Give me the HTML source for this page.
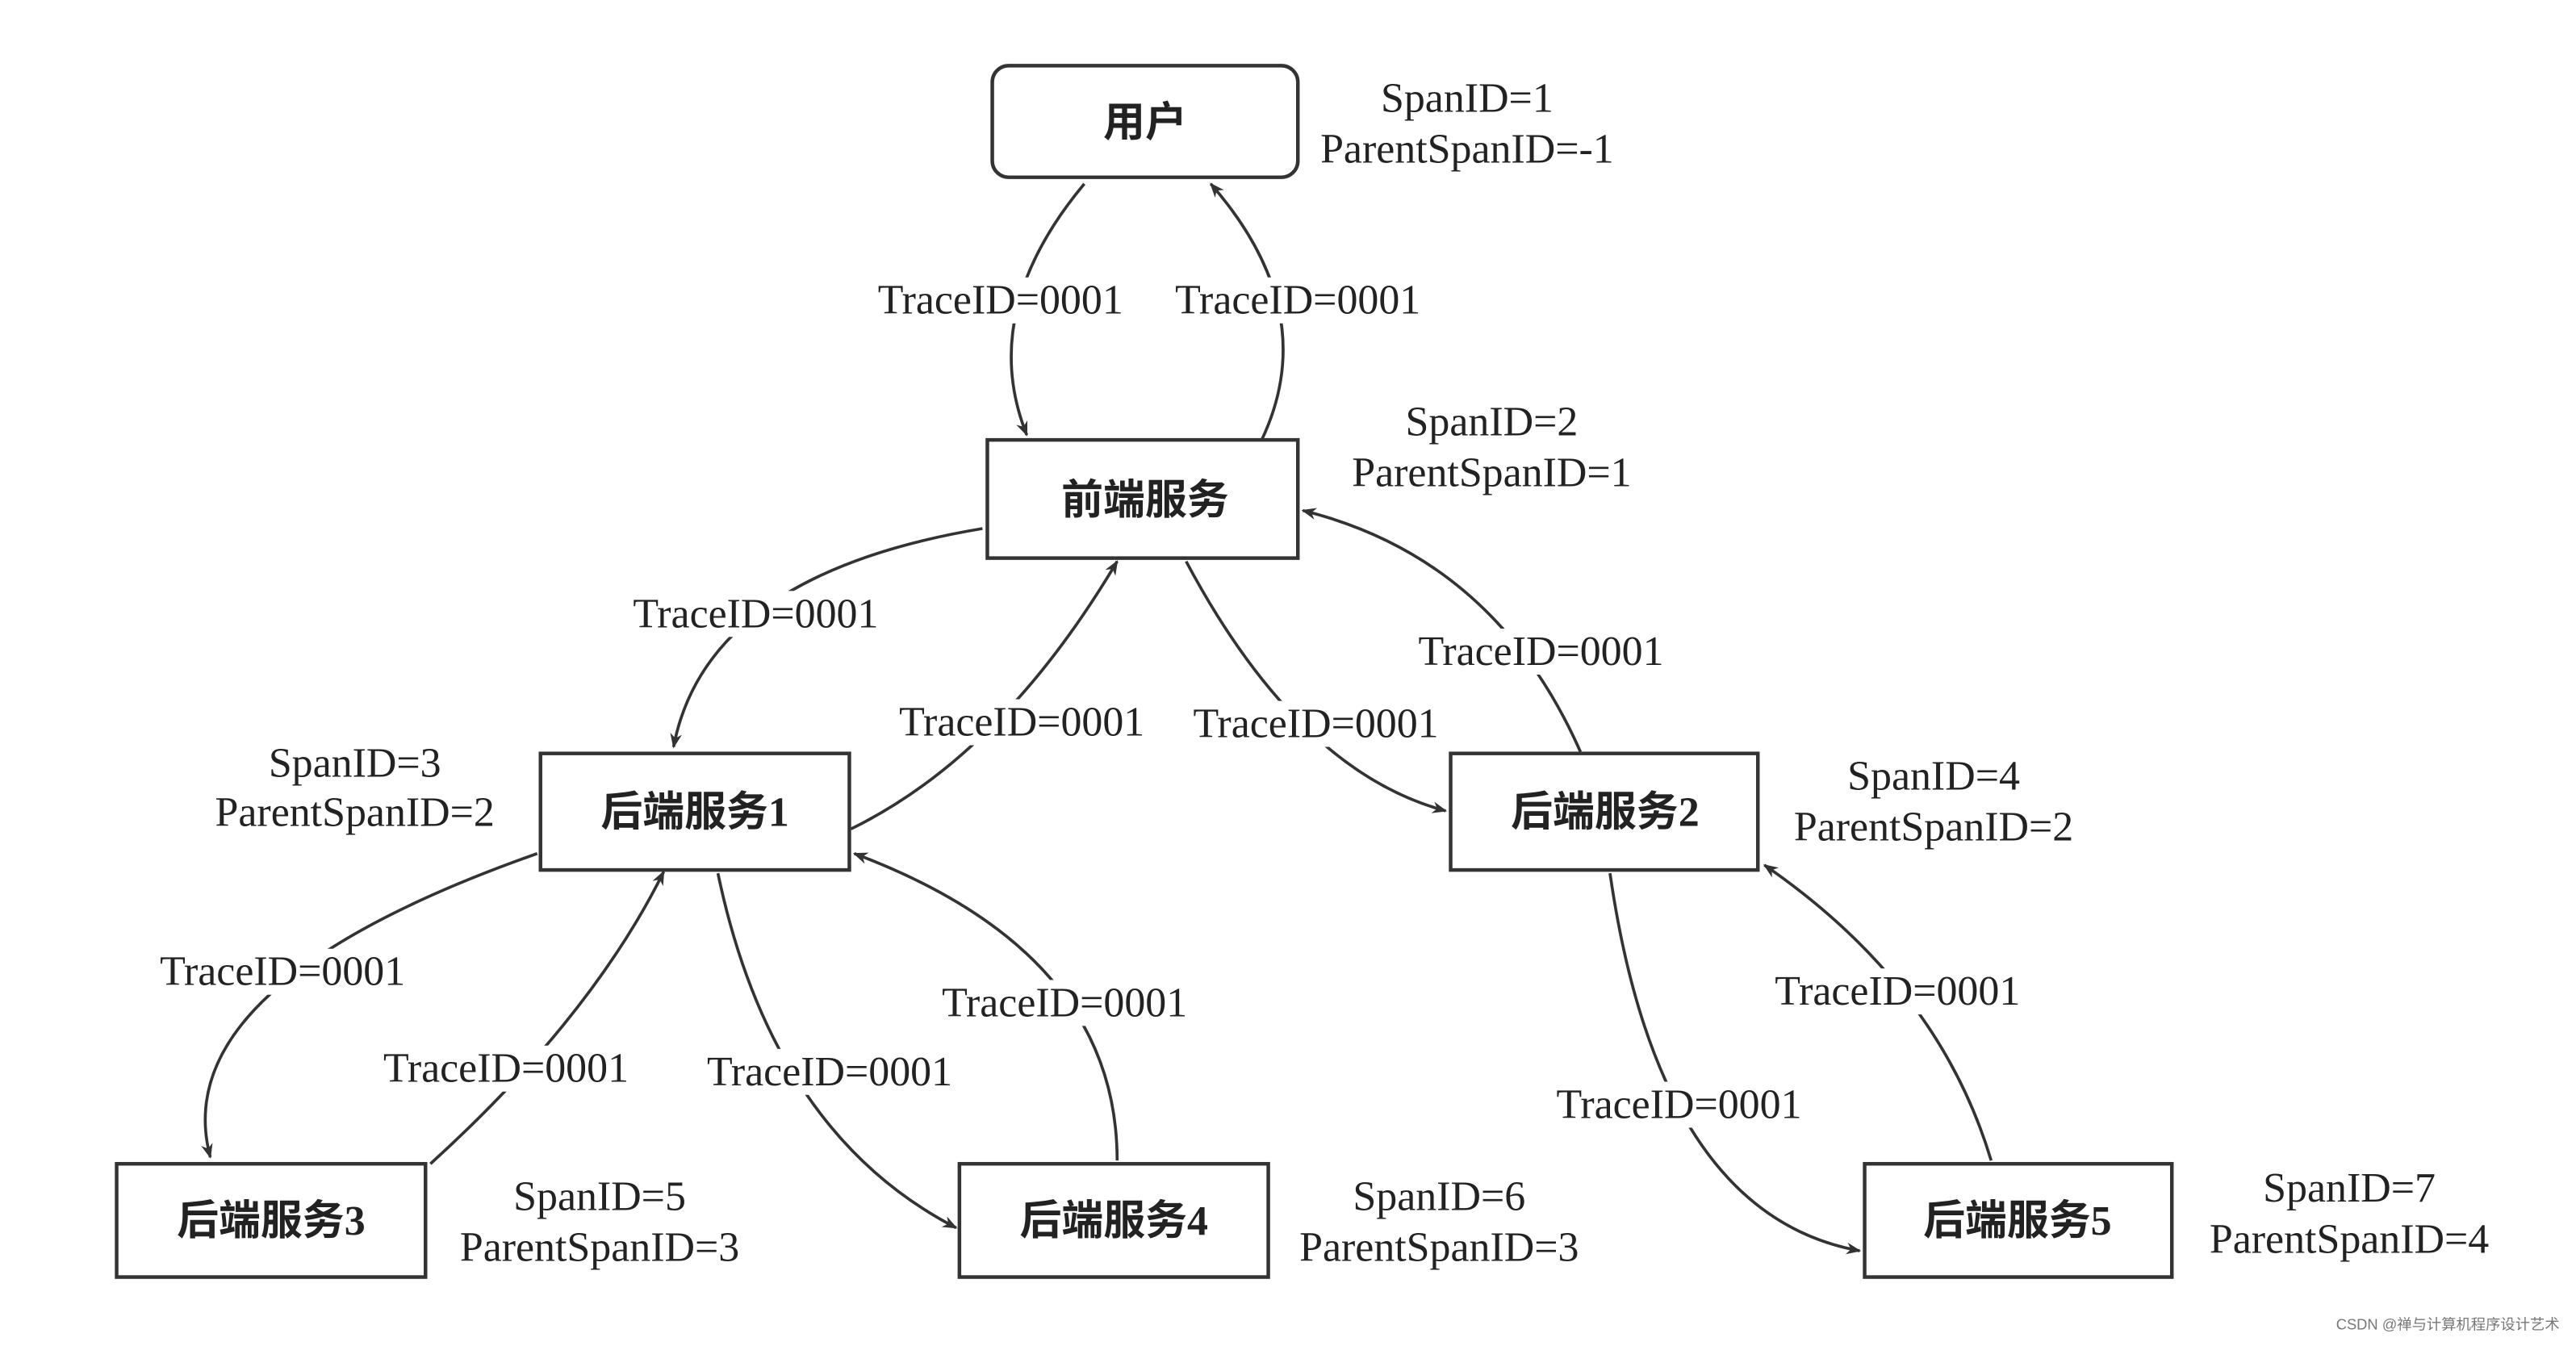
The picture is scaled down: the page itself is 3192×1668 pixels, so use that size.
<!DOCTYPE html>
<html><head><meta charset="utf-8"><style>
html,body{margin:0;padding:0;background:#fff;}
svg{display:block;}
.t{font-family:"Liberation Serif","Noto Serif CJK SC",serif;font-size:25.5px;fill:#222;text-anchor:middle;dominant-baseline:central;}
.c{font-family:"Liberation Serif","Noto Sans CJK SC",sans-serif;font-size:25.5px;font-weight:bold;fill:#222;text-anchor:middle;dominant-baseline:central;}
.b{fill:#fff;stroke:#333;stroke-width:2.2;}
.e{fill:none;stroke:#333;stroke-width:1.8;marker-end:url(#a);}
.bg{fill:#fff;}
</style></head><body>
<svg width="3192" height="1668" viewBox="0 0 1568 820" preserveAspectRatio="none" xmlns="http://www.w3.org/2000/svg">
<defs><marker id="a" viewBox="0 0 10 10" refX="9" refY="5" markerWidth="9" markerHeight="9" orient="auto-start-reverse" markerUnits="userSpaceOnUse"><path d="M0,1 L10,5 L0,9 L3,5 z" fill="#333"/></marker></defs>
<rect width="1568" height="820" fill="#fff"/>
<path class="e" d="M660,112 Q595,190 625,265"/>
<path class="e" d="M768,268 Q805,190 737,112"/>
<path class="e" d="M598,322 Q430,350 410,455"/>
<path class="e" d="M518,505 Q610,460 680,342"/>
<path class="e" d="M722,342 Q790,470 880,494"/>
<path class="e" d="M962,458 Q910,340 793,311"/>
<path class="e" d="M327,520 Q100,600 128,705"/>
<path class="e" d="M262,709 Q360,620 404,531"/>
<path class="e" d="M437,532 Q470,690 582,748"/>
<path class="e" d="M680,707 Q680,580 520,520"/>
<path class="e" d="M980,532 Q1010,740 1132,762"/>
<path class="e" d="M1212,707 Q1180,600 1074,527"/>
<g class="bg">
<rect x="526" y="169" width="166" height="28"/>
<rect x="707" y="169" width="166" height="28"/>
<rect x="377" y="360" width="166" height="28"/>
<rect x="539" y="426" width="166" height="28"/>
<rect x="718" y="427" width="166" height="28"/>
<rect x="855" y="383" width="166" height="28"/>
<rect x="89" y="578" width="166" height="28"/>
<rect x="225" y="637" width="166" height="28"/>
<rect x="422" y="639" width="166" height="28"/>
<rect x="565" y="597" width="166" height="28"/>
<rect x="939" y="659" width="166" height="28"/>
<rect x="1072" y="590" width="166" height="28"/>
</g>
<g class="t">
<text x="609" y="183">TraceID=0001</text>
<text x="790" y="183">TraceID=0001</text>
<text x="460" y="374">TraceID=0001</text>
<text x="622" y="440">TraceID=0001</text>
<text x="801" y="441">TraceID=0001</text>
<text x="938" y="397">TraceID=0001</text>
<text x="172" y="592">TraceID=0001</text>
<text x="308" y="651">TraceID=0001</text>
<text x="505" y="653">TraceID=0001</text>
<text x="648" y="611">TraceID=0001</text>
<text x="1022" y="673">TraceID=0001</text>
<text x="1155" y="604">TraceID=0001</text>
<text x="893" y="60">SpanID=1</text>
<text x="893" y="91">ParentSpanID=-1</text>
<text x="908" y="257">SpanID=2</text>
<text x="908" y="288">ParentSpanID=1</text>
<text x="216" y="465">SpanID=3</text>
<text x="216" y="495">ParentSpanID=2</text>
<text x="1177" y="473">SpanID=4</text>
<text x="1177" y="504">ParentSpanID=2</text>
<text x="365" y="729">SpanID=5</text>
<text x="365" y="760">ParentSpanID=3</text>
<text x="876" y="729">SpanID=6</text>
<text x="876" y="760">ParentSpanID=3</text>
<text x="1430" y="724">SpanID=7</text>
<text x="1430" y="755">ParentSpanID=4</text>
</g>
<rect class="b" x="604" y="40" width="186" height="68" rx="10"/>
<rect class="b" x="601" y="268" width="189" height="72"/>
<rect class="b" x="329" y="459" width="188" height="71"/>
<rect class="b" x="883" y="459" width="187" height="71"/>
<rect class="b" x="71" y="709" width="188" height="69"/>
<rect class="b" x="584" y="709" width="188" height="69"/>
<rect class="b" x="1135" y="709" width="187" height="69"/>
<g class="c">
<text x="697" y="75">用户</text>
<text x="697" y="305">前端服务</text>
<text x="423" y="495">后端服务1</text>
<text x="977" y="495">后端服务2</text>
<text x="165" y="744">后端服务3</text>
<text x="678" y="744">后端服务4</text>
<text x="1228" y="744">后端服务5</text>
</g>
<text x="1490" y="810" style="font-family:'Liberation Sans','Noto Sans CJK SC',sans-serif;font-size:9px;fill:#777;text-anchor:middle">CSDN @禅与计算机程序设计艺术</text>
</svg>
</body></html>
